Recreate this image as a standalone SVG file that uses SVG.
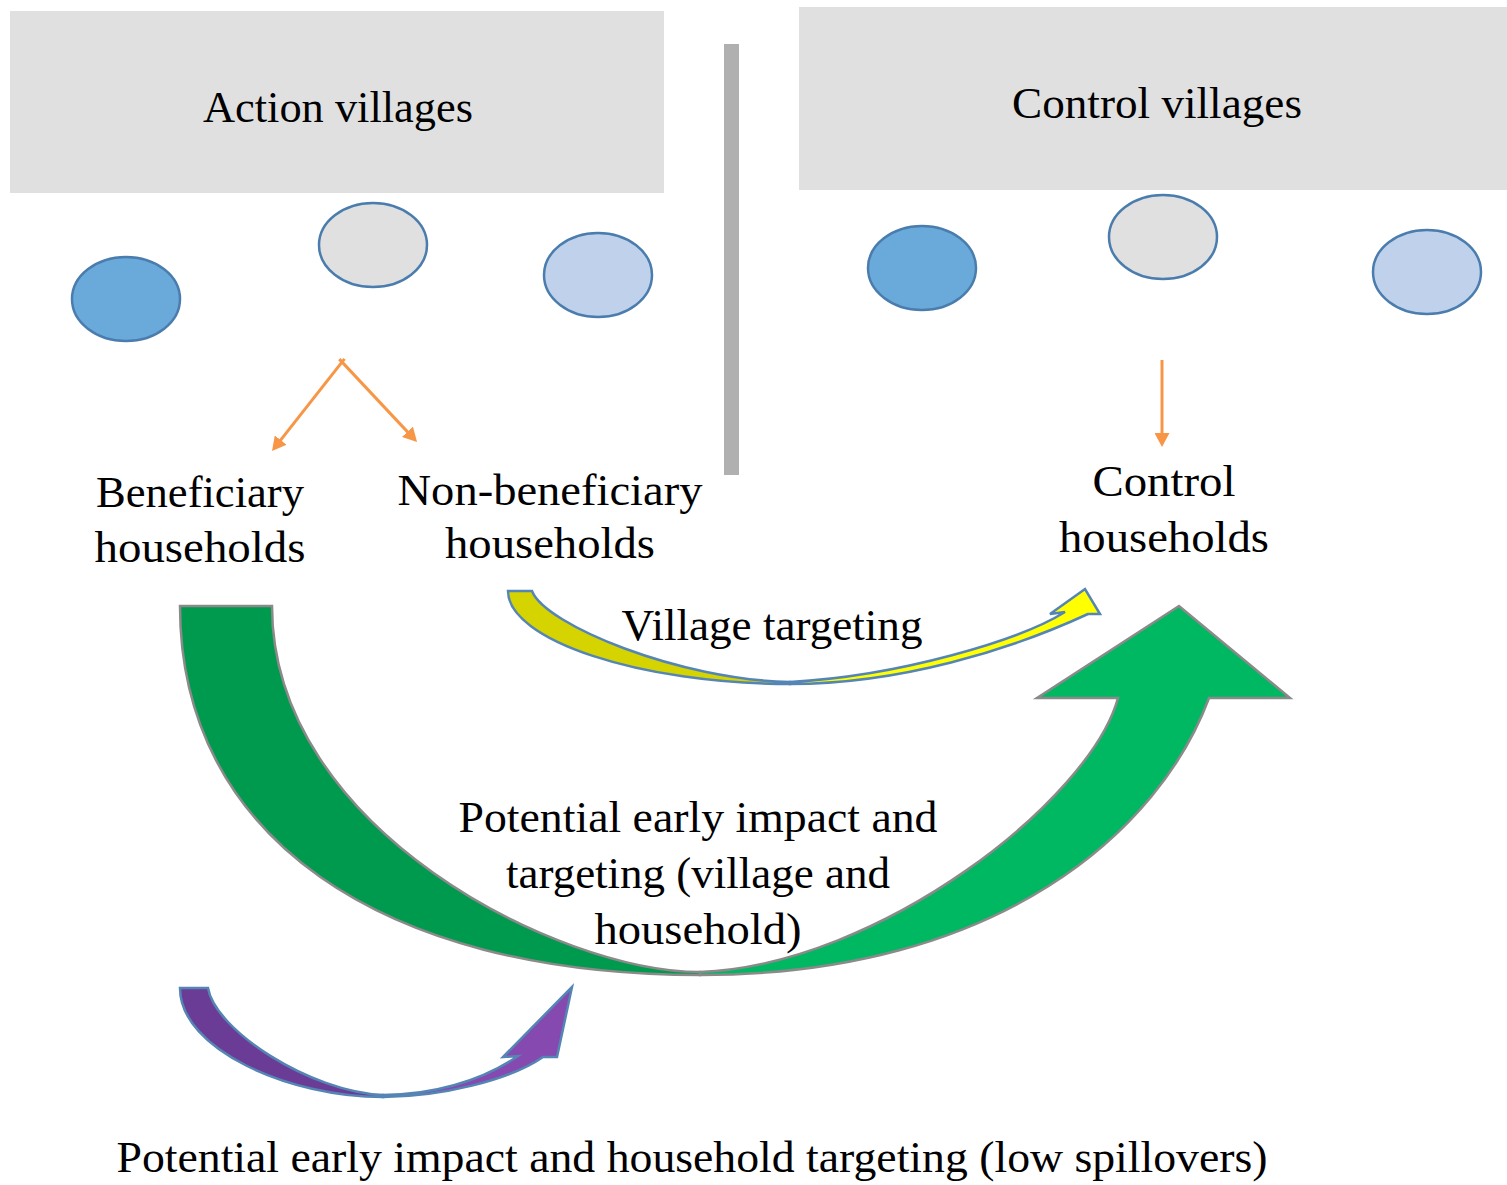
<svg xmlns="http://www.w3.org/2000/svg" width="1507" height="1185" viewBox="0 0 1507 1185">
  <style>
    .lbl { font-family: "Liberation Serif", "Times New Roman", serif; font-size: 45px; fill: #000; text-anchor: middle; }
    .panel { fill: #E0E0E0; }
    .village { stroke: #4A7DAE; stroke-width: 2.5; }
    .v-dark { fill: #6AAADA; }
    .v-grey { fill: #E0E0E0; }
    .v-light { fill: #C0D2EB; }
    .flow { stroke: #F79646; stroke-width: 3; fill: none; }
    .big { stroke: #8A8A8A; stroke-width: 2.5; stroke-linejoin: miter; }
    .thin { stroke: #5585B5; stroke-width: 2.5; stroke-linejoin: miter; }
  </style>
  <defs>
    <marker id="head" markerUnits="userSpaceOnUse" viewBox="0 0 14 15" markerWidth="14" markerHeight="15" refX="10" refY="7.5" orient="auto">
      <path d="M0,0 L14,7.5 L0,15 Z" fill="#F79646"/>
    </marker>
  </defs>

  <rect width="1507" height="1185" fill="#FFFFFF"/>

  <!-- headers -->
  <g id="action-villages">
    <rect class="panel" x="10" y="11" width="654" height="182"/>
    <text class="lbl" x="338" y="122" textLength="270" lengthAdjust="spacingAndGlyphs">Action villages</text>
  </g>
  <g id="control-villages">
    <rect class="panel" x="799" y="7" width="708" height="183"/>
    <text class="lbl" x="1157" y="118" textLength="290" lengthAdjust="spacingAndGlyphs">Control villages</text>
  </g>

  <!-- divider between the two arms -->
  <g id="divider">
    <rect x="724" y="44" width="15" height="431" fill="#B0B0B0"/>
  </g>

  <!-- village markers -->
  <g id="action-dots">
    <ellipse class="village v-dark" cx="126" cy="299" rx="54" ry="42"/>
    <ellipse class="village v-grey" cx="373" cy="245" rx="54" ry="42"/>
    <ellipse class="village v-light" cx="598" cy="275" rx="54" ry="42"/>
  </g>
  <g id="control-dots">
    <ellipse class="village v-dark" cx="922" cy="268" rx="54" ry="42"/>
    <ellipse class="village v-grey" cx="1163" cy="237" rx="54" ry="42"/>
    <ellipse class="village v-light" cx="1427" cy="272" rx="54" ry="42"/>
  </g>

  <!-- household groups -->
  <g id="beneficiary">
    <text class="lbl" x="200" y="507" textLength="208" lengthAdjust="spacingAndGlyphs">Beneficiary</text>
    <text class="lbl" x="200" y="562" textLength="211" lengthAdjust="spacingAndGlyphs">households</text>
  </g>
  <g id="non-beneficiary">
    <text class="lbl" x="550" y="505" textLength="305" lengthAdjust="spacingAndGlyphs">Non-beneficiary</text>
    <text class="lbl" x="550" y="558" textLength="210" lengthAdjust="spacingAndGlyphs">households</text>
  </g>
  <g id="control-households">
    <text class="lbl" x="1164" y="496" textLength="143" lengthAdjust="spacingAndGlyphs">Control</text>
    <text class="lbl" x="1164" y="552" textLength="210" lengthAdjust="spacingAndGlyphs">households</text>
  </g>

  <!-- connectors -->
  <g id="connectors">
    <line class="flow" x1="344.5" y1="358.9" x2="274.5" y2="447.9" marker-end="url(#head)"/>
    <line class="flow" x1="339.3" y1="359.1" x2="414.3" y2="439.1" marker-end="url(#head)"/>
    <line class="flow" x1="1162" y1="360" x2="1162" y2="443" marker-end="url(#head)"/>

    <!-- village targeting: non-beneficiary to control -->
    <g id="village-arrow">
      <path class="thin" fill="#D5D300" d="M508,591 L532,591 C545,625 680,680 790,682 L790,684 C640,684 508,640 508,591 Z"/>
      <path class="thin" fill="#FFFF00" d="M790,684 C900,684 1010,650 1088,614 L1100,614 L1085,589 L1050,614 L1065,612 C1020,640 900,676 790,682 Z"/>
    </g>

    <!-- early impact and targeting: beneficiary to control -->
    <g id="impact-arrow">
      <path class="big" fill="#009A4E" d="M180,606 L272,606 C272,830 560,972 700,972 L700,975 C380,975 180,836 180,606 Z"/>
      <path class="big" fill="#00B862" d="M700,975 C1000,975 1160,830 1209,698 L1290,698 L1179,606 L1037,698 L1118,698 C1090,800 880,965 700,972 Z"/>
    </g>

    <!-- household targeting within action villages -->
    <g id="household-arrow">
      <path class="thin" fill="#6B3C96" d="M180,988 L208,988 C215,1030 310,1092 383,1095 L383,1097 C290,1097 180,1050 180,988 Z"/>
      <path class="thin" fill="#8549AF" d="M383,1097 C440,1097 510,1080 543,1057 L557,1057 L572,987 L503,1057 L518,1056 C480,1082 430,1095 383,1095 Z"/>
    </g>
  </g>

  <!-- arrow captions -->
  <g id="village-caption">
    <text class="lbl" x="772" y="640" textLength="301" lengthAdjust="spacingAndGlyphs">Village targeting</text>
  </g>
  <g id="impact-caption">
    <text class="lbl" x="698" y="832" textLength="479" lengthAdjust="spacingAndGlyphs">Potential early impact and</text>
    <text class="lbl" x="698" y="888" textLength="384" lengthAdjust="spacingAndGlyphs">targeting (village and</text>
    <text class="lbl" x="698" y="944" textLength="207" lengthAdjust="spacingAndGlyphs">household)</text>
  </g>
  <g id="household-caption">
    <text class="lbl" x="692" y="1172" textLength="1151" lengthAdjust="spacingAndGlyphs">Potential early impact and household targeting (low spillovers)</text>
  </g>
</svg>
